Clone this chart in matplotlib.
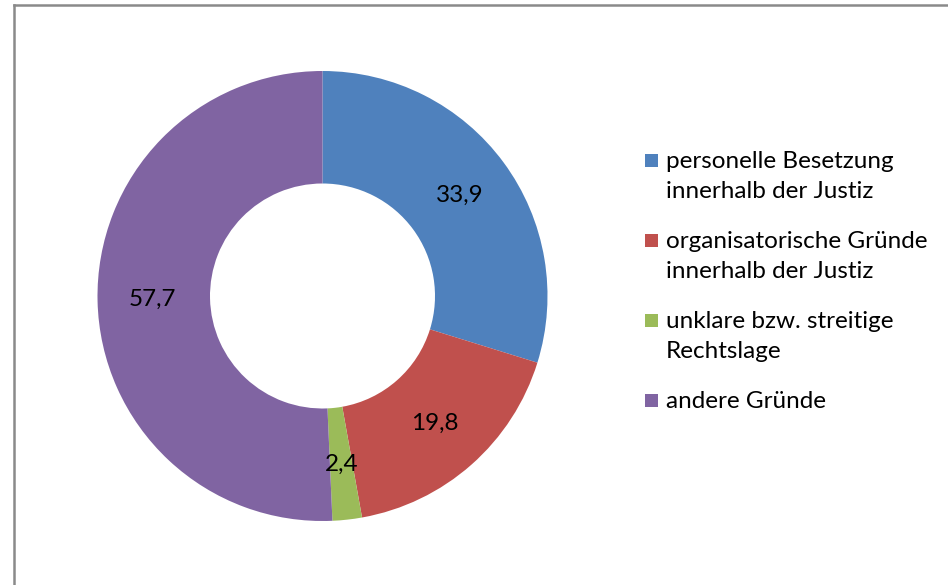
import matplotlib
matplotlib.use("Agg")
import matplotlib.pyplot as plt
from matplotlib.patches import Rectangle
from matplotlib.lines import Line2D
import numpy as np

plt.rcParams['font.family'] = ['Lato', 'DejaVu Sans']

labels = ["personelle Besetzung\ninnerhalb der Justiz",
          "organisatorische Gründe\ninnerhalb der Justiz",
          "unklare bzw. streitige\nRechtslage",
          "andere Gründe"]
values = [33.9, 19.8, 2.4, 57.7]
value_text = ["33,9", "19,8", "2,4", "57,7"]
colors = ["#4F81BD", "#C0504D", "#9BBB59", "#8064A2"]

W, H = 948, 585
fig = plt.figure(figsize=(W / 100, H / 100), dpi=100)

# chart frame (only left and top edges visible)
fig.add_artist(Line2D([14 / W, 14 / W], [0, 1 - 5 / H], color="#8a8a8a", lw=1.8))
fig.add_artist(Line2D([14 / W, 1], [1 - 5 / H, 1 - 5 / H], color="#8a8a8a", lw=1.8))

cx, cy, r = 322.5, 296, 225
ax = fig.add_axes([(cx - r) / W, (H - cy - r) / H, 2 * r / W, 2 * r / H])
wedges, _ = ax.pie(values, colors=colors, startangle=90, counterclock=False,
                   radius=1, wedgeprops=dict(width=0.5, linewidth=0))
ax.set_xlim(-1, 1)
ax.set_ylim(-1, 1)
ax.set_aspect("equal")
ax.axis("off")

# value labels in the middle of the ring
total = sum(values)
start = 90.0
for v, t in zip(values, value_text):
    mid = np.deg2rad(start - v / total * 360 / 2)
    start -= v / total * 360
    ax.text(0.755 * np.cos(mid), 0.755 * np.sin(mid), t, ha="center", va="center",
            fontsize=17.5, color="black")

# legend
ys = [160, 240, 320, 400]
for lab, c, y in zip(labels, colors, ys):
    fig.add_artist(Rectangle((645 / W, 1 - (y + 7) / H), 13 / W, 13 / H,
                             transform=fig.transFigure, color=c, lw=0))
    fig.text(666 / W, 1 - (y - 9) / H, lab, ha="left", va="top",
             fontsize=17.5, linespacing=1.55)

fig.savefig("out.png", dpi=100)
